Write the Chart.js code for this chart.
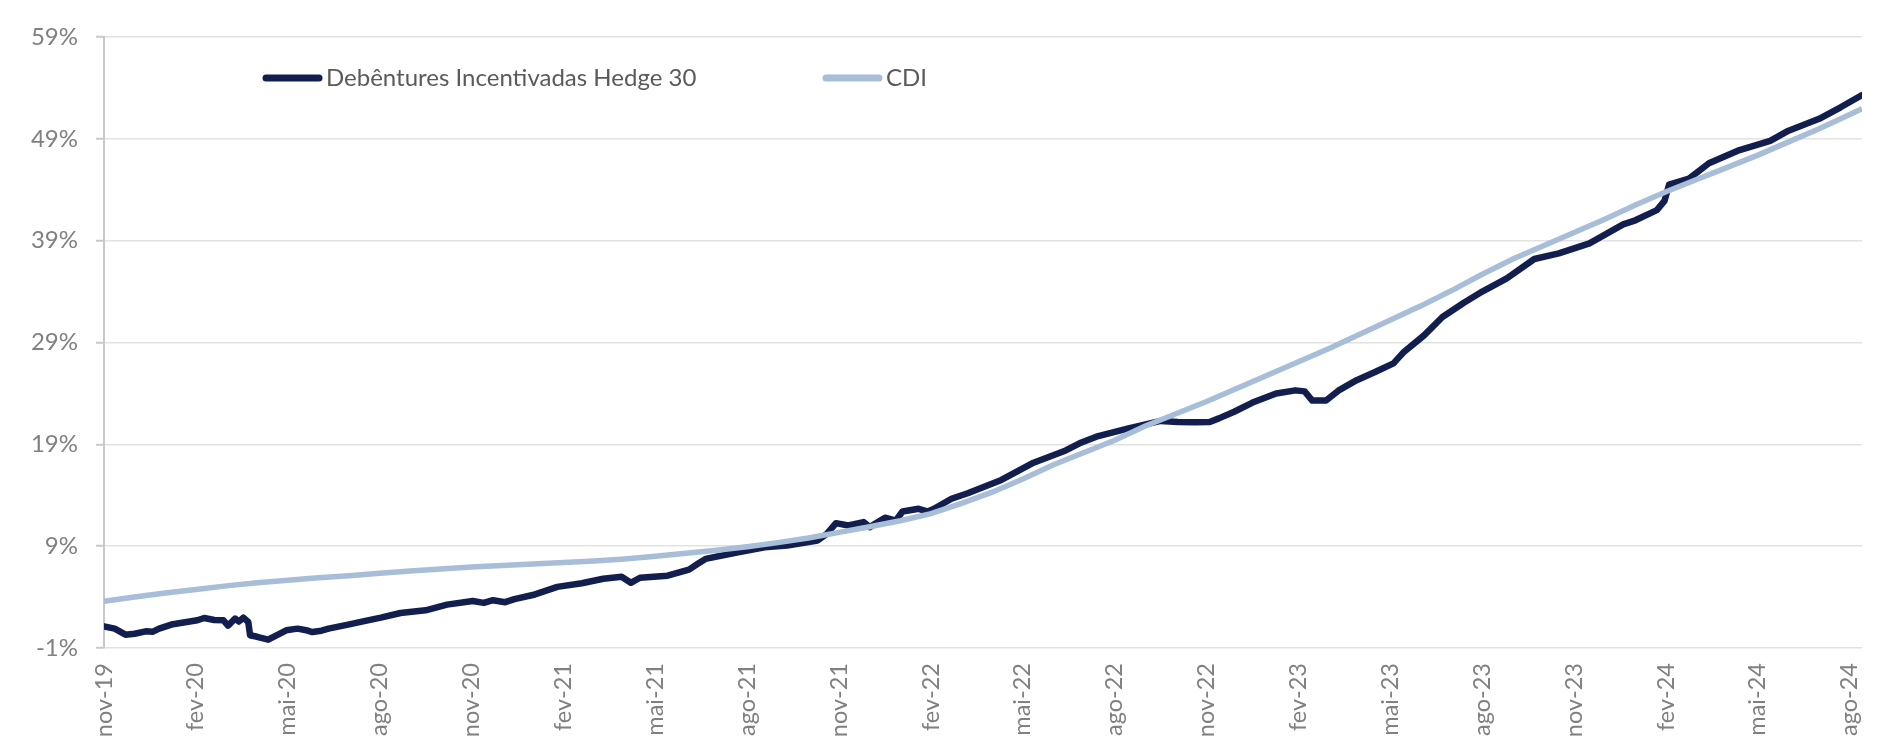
<!DOCTYPE html>
<html>
<head>
<meta charset="utf-8">
<script src="https://cdn.jsdelivr.net/npm/chart.js@4.4.1/dist/chart.umd.min.js"></script>
<style>
    body { margin: 0; background: #ffffff; }
    #wrap { width: 1893px; height: 739px; position: relative; }
</style>
</head>
<body>
<div id="wrap"><canvas id="chart"></canvas></div>
<script>
// x values are months counted from nov-19
const tickLabels = ['nov-19', 'fev-20', 'mai-20', 'ago-20', 'nov-20', 'fev-21', 'mai-21', 'ago-21', 'nov-21', 'fev-22',
    'mai-22', 'ago-22', 'nov-22', 'fev-23', 'mai-23', 'ago-23', 'nov-23', 'fev-24', 'mai-24', 'ago-24'];
const yTicks = [-1, 9, 19, 29, 39, 49, 59];

const seriesNames = ['Debêntures Incentivadas Hedge 30', 'CDI'];

const hedgeMonths = [0, 0.35, 0.7, 1.0, 1.36, 1.6, 1.8, 2.2, 2.6, 3.05, 3.27, 3.6, 3.9, 4.05, 4.28, 4.4, 4.55, 4.71, 4.77, 5.0,
    5.36, 5.6, 5.95, 6.32, 6.6, 6.8, 7.1, 7.33, 7.97, 8.61, 9.04, 9.68, 10.5, 11.2, 12.04, 12.4, 12.7, 13.1, 13.4, 14.0,
    14.8, 15.6, 16.3, 16.9, 17.2, 17.5, 18.4, 19.1, 19.4, 19.64, 20.7, 21.57, 22.3, 23.3, 23.6, 23.9, 24.3, 24.8, 25.0, 25.5,
    25.85, 26.07, 26.6, 26.9, 27.1, 27.67, 28.2, 29.3, 30.35, 31.4, 31.85, 32.4, 33.45, 34.5, 35.06, 35.6, 36.1, 36.4, 36.9, 37.5,
    38.27, 38.9, 39.2, 39.45, 39.9, 40.3, 40.9, 41.5, 42.1, 42.45, 43.1, 43.7, 44.4, 45.0, 45.8, 46.7, 47.5, 48.5, 49.6, 50.0,
    50.7, 50.95, 51.1, 51.75, 52.4, 53.4, 54.4, 55.0, 56.0, 56.7, 57.4];
const hedgeValues = [1.13, 0.9, 0.31, 0.4, 0.64, 0.6, 0.9, 1.3, 1.5, 1.72, 1.95, 1.75, 1.72, 1.2, 1.89, 1.6, 1.98, 1.56, 0.25, 0.1,
    -0.18, 0.2, 0.74, 0.9, 0.75, 0.57, 0.7, 0.9, 1.3, 1.72, 1.98, 2.44, 2.7, 3.26, 3.62, 3.43, 3.69, 3.5, 3.8, 4.2,
    5.0, 5.36, 5.8, 6.0, 5.4, 5.9, 6.1, 6.7, 7.3, 7.75, 8.4, 8.9, 9.07, 9.56, 10.2, 11.26, 11.03, 11.36, 10.87, 11.8,
    11.5, 12.4, 12.67, 12.4, 12.67, 13.66, 14.2, 15.5, 17.2, 18.4, 19.1, 19.75, 20.57, 21.3, 21.2, 21.16, 21.2, 21.55, 22.2, 23.1,
    24.0, 24.3, 24.2, 23.3, 23.3, 24.27, 25.3, 26.1, 26.95, 28.1, 29.7, 31.5, 32.9, 34.0, 35.3, 37.2, 37.75, 38.74, 40.6, 41.0,
    42.0, 42.9, 44.5, 45.1, 46.6, 47.9, 48.8, 49.8, 50.97, 52.1, 53.3];

const cdiMonths = [0, 1, 2, 3, 4, 5, 6, 7, 8, 9, 10, 11, 12, 13, 14, 15, 16, 17, 18, 19, 20, 21, 22, 23, 24, 25, 26, 27, 28, 29,
    30, 31, 32, 33, 34, 35, 36, 37, 38, 39, 40, 41, 42, 43, 44, 45, 46, 47, 48, 49, 50, 51, 52, 53, 54, 55, 56, 57, 57.4];
const cdiValues = [3.6, 4.0, 4.4, 4.75, 5.1, 5.4, 5.65, 5.9, 6.1, 6.35, 6.55, 6.75, 6.95, 7.1, 7.25, 7.4, 7.55, 7.75, 8.0, 8.3,
    8.6, 8.95, 9.35, 9.8, 10.35, 10.9, 11.5, 12.2, 13.2, 14.3, 15.6, 17.0, 18.2, 19.4, 20.8, 22.0, 23.2, 24.5, 25.8, 27.1,
    28.4, 29.8, 31.2, 32.6, 34.1, 35.7, 37.2, 38.5, 39.8, 41.1, 42.5, 43.8, 45.0, 46.2, 47.4, 48.7, 50.0, 51.4, 51.95];

const toPoints = (xs, ys) => xs.map((x, i) => ({ x: x, y: ys[i] }));

const FONT = 'Lato, "Open Sans", sans-serif';
const legendSpots = [162, 722];   // offset from the y axis

const insideLegend = {
    id: 'insideLegend',
    afterDatasetsDraw(chart)
    {
        const ctx = chart.ctx;
        const left = chart.chartArea.left;
        const y = 78;

        ctx.save();
        chart.data.datasets.forEach((ds, i) => {
            const x = left + legendSpots[i];
            ctx.strokeStyle = ds.borderColor;
            ctx.lineWidth = 7;
            ctx.lineCap = 'round';
            ctx.beginPath();
            ctx.moveTo(x, y);
            ctx.lineTo(x + 53, y);
            ctx.stroke();

            ctx.fillStyle = '#5a5a5a';
            ctx.font = '24px ' + FONT;
            ctx.textBaseline = 'middle';
            ctx.fillText(ds.label, x + 60, y);
        });
        ctx.restore();
    }
};

const config = {
    type: 'line',
    data: {
        datasets: [
            {
                label: seriesNames[0],
                data: toPoints(hedgeMonths, hedgeValues),
                borderColor: '#121e4e',
                borderWidth: 6.5,
                pointRadius: 0,
                borderJoinStyle: 'round',
                borderCapStyle: 'round',
                order: 1,
            },
            {
                label: seriesNames[1],
                data: toPoints(cdiMonths, cdiValues),
                borderColor: '#a7bdd8',
                borderWidth: 5.5,
                pointRadius: 0,
                order: 0,
            }
        ]
    },
    options: {
        responsive: true,
        maintainAspectRatio: false,
        animation: false,
        layout: { padding: { top: 37, right: 0, left: 0, bottom: 0 } },
        plugins: {
            legend: { display: false },
            tooltip: { enabled: false },
        },
        scales: {
            x: {
                type: 'linear',
                min: 0,
                max: 57.4,
                afterBuildTicks: scale => {
                    scale.ticks = tickLabels.map((t, i) => ({ value: i * 3 }));
                },
                afterFit: scale => { scale.height = 91; },
                grid: { display: false, drawTicks: false },
                border: { display: false },
                ticks: {
                    autoSkip: false,
                    maxRotation: 90,
                    minRotation: 90,
                    padding: 15,
                    color: '#808080',
                    font: { family: FONT, size: 23.5 },
                    callback: (v) => tickLabels[Math.round(v / 3)],
                }
            },
            y: {
                min: -1,
                max: 59,
                afterBuildTicks: scale => {
                    scale.ticks = yTicks.map(v => ({ value: v }));
                },
                afterFit: scale => { scale.width = 104; },
                grid: {
                    color: '#e2e2e2',
                    lineWidth: 1.5,
                    tickColor: '#c8c8c8',
                    tickLength: 8,
                    tickWidth: 2,
                },
                border: { display: true, color: '#c8c8c8', width: 2 },
                ticks: {
                    padding: 18,
                    color: '#808080',
                    font: { family: FONT, size: 24 },
                    callback: (v) => v + '%',
                }
            }
        }
    },
    plugins: [insideLegend]
};

const chart = new Chart(document.getElementById('chart'), config);
</script>
</body>
</html>
